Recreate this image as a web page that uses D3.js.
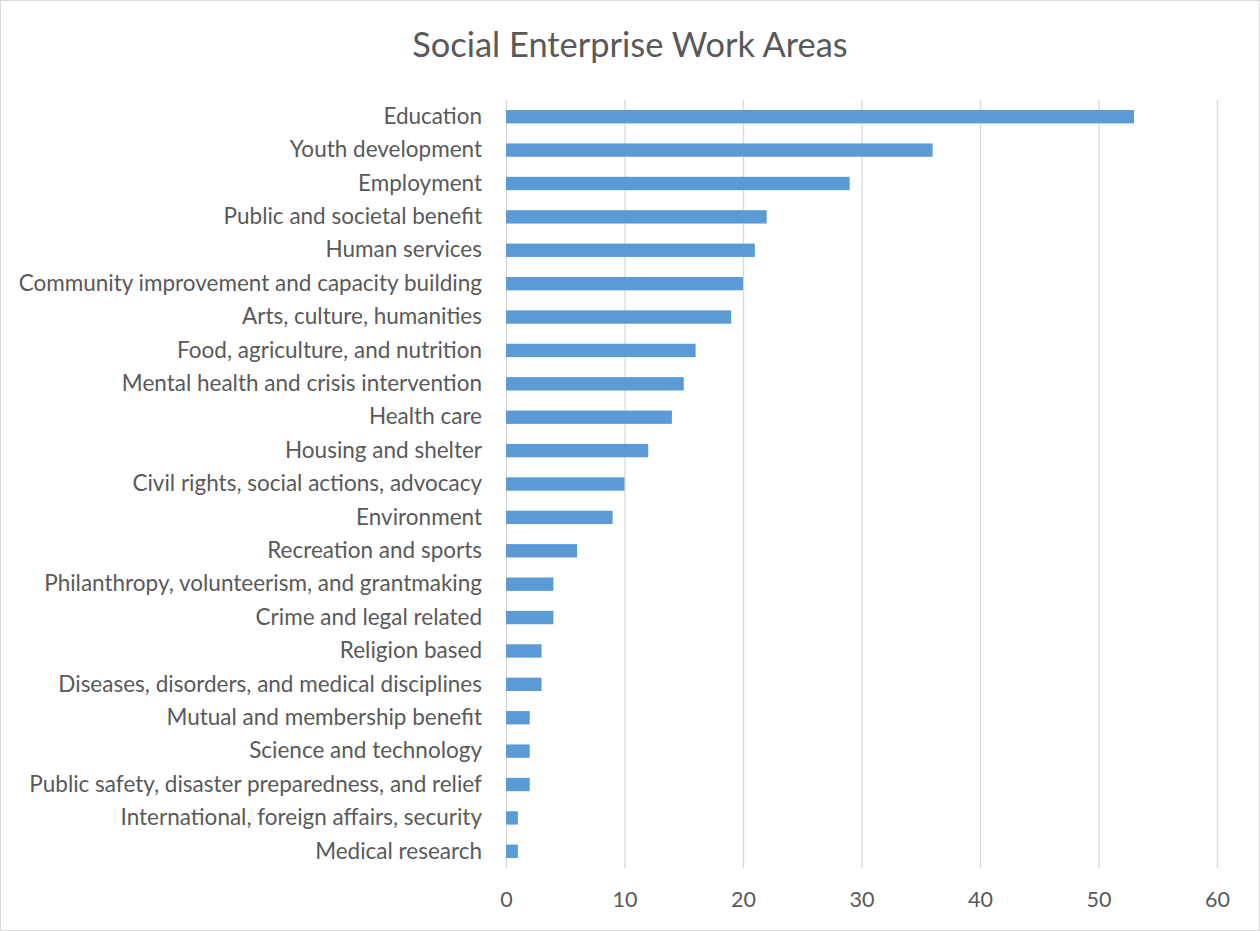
<!DOCTYPE html>
<html>
<head>
<meta charset="utf-8">
<script src="https://cdn.jsdelivr.net/npm/d3@7"></script>
<style>
  html, body { margin: 0; padding: 0; background: #fff; }
  svg { display: block; }
</style>
</head>
<body>
<svg id="chart" width="1260" height="931"></svg>
<script>
// Work areas reported by social enterprises, top to bottom
const categories = [
  "Education",
  "Youth development",
  "Employment",
  "Public and societal benefit",
  "Human services",
  "Community improvement and capacity building",
  "Arts, culture, humanities",
  "Food, agriculture, and nutrition",
  "Mental health and crisis intervention",
  "Health care",
  "Housing and shelter",
  "Civil rights, social actions, advocacy",
  "Environment",
  "Recreation and sports",
  "Philanthropy, volunteerism, and grantmaking",
  "Crime and legal related",
  "Religion based",
  "Diseases, disorders, and medical disciplines",
  "Mutual and membership benefit",
  "Science and technology",
  "Public safety, disaster preparedness, and relief",
  "International, foreign affairs, security",
  "Medical research"
];
const counts = [53, 36, 29, 22, 21, 20, 19, 16, 15, 14, 12, 10, 9, 6, 4, 4, 3, 3, 2, 2, 2, 1, 1];
const xTicks = [0, 10, 20, 30, 40, 50, 60];
const chartTitle = "Social Enterprise Work Areas";

const W = 1260, H = 931;
const margin = { top: 100, right: 43, bottom: 63, left: 506 };
const font = "Lato, 'Open Sans', sans-serif";
const textColor = "#595959";

const svg = d3.select("#chart");

// outer frame
svg.append("rect")
  .attr("x", 0.5).attr("y", 0.5)
  .attr("width", W - 1).attr("height", H - 1)
  .attr("fill", "#fff").attr("stroke", "#d9d9d9");

const x = d3.scaleLinear().domain([0, 60]).range([margin.left, W - margin.right]);
const y = d3.scaleBand().domain(categories).range([margin.top, H - margin.bottom]).paddingInner(0.6).paddingOuter(0.3);

// vertical gridlines
const xAxis = svg.append("g")
  .attr("transform", `translate(0,${H - margin.bottom})`)
  .call(d3.axisBottom(x).tickValues(xTicks).tickSize(-(H - margin.top - margin.bottom)).tickPadding(24));
xAxis.select(".domain").remove();
xAxis.selectAll(".tick line").attr("stroke", "#d9d9d9").attr("stroke-width", 1.3);
xAxis.selectAll(".tick text")
  .attr("fill", textColor)
  .style("font-family", font)
  .style("font-size", "21.5px");

// bars
svg.append("g").selectAll("rect")
  .data(categories)
  .join("rect")
  .attr("x", x(0))
  .attr("y", d => y(d))
  .attr("width", (d, i) => x(counts[i]) - x(0))
  .attr("height", y.bandwidth())
  .attr("fill", "#5b9bd5");

// category labels
const yAxis = svg.append("g")
  .attr("transform", `translate(${margin.left},0)`)
  .call(d3.axisLeft(y).tickSize(0).tickPadding(24));
yAxis.select(".domain").remove();
yAxis.selectAll(".tick text")
  .attr("fill", textColor)
  .style("font-family", font)
  .style("font-size", "22.5px");

// title
svg.append("text")
  .attr("x", 630)
  .attr("y", 57)
  .attr("text-anchor", "middle")
  .attr("fill", textColor)
  .style("font-family", font)
  .style("font-size", "34.4px")
  .text(chartTitle);
</script>
</body>
</html>
